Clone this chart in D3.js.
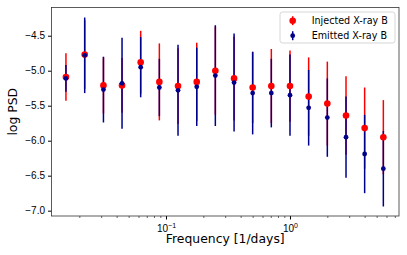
<!DOCTYPE html>
<html>
<head>
<meta charset="utf-8">
<script src="https://cdn.jsdelivr.net/npm/d3@7"></script>
<style>
  body { margin: 0; background: #fff; }
  svg { display: block; font-family: "DejaVu Sans", sans-serif; }
</style>
</head>
<body>
<svg></svg>
<script>
const width = 407;
const height = 255;

// frequencies [1/days]
const freq = [0.0156, 0.0221, 0.0313, 0.0442, 0.0625, 0.0884, 0.125, 0.177, 0.25,
  0.354, 0.5, 0.707, 1.0, 1.414, 2.0, 2.83, 4.0, 5.66];

// Injected X-ray B
const injected = [-5.09, -4.77, -5.21, -5.21, -4.88, -5.16, -5.22, -5.16, -5.00,
  -5.11, -5.24, -5.22, -5.22, -5.37, -5.47, -5.64, -5.82, -5.95];
const injectedErr = [0.34, 0.49, 0.40, 0.39, 0.45, 0.55, 0.54, 0.56, 0.63,
  0.60, 0.51, 0.53, 0.51, 0.56, 0.60, 0.56, 0.58, 0.53];

// Emitted X-ray B
const emitted = [-5.11, -4.78, -5.27, -5.18, -4.95, -5.24, -5.28, -5.23, -5.07,
  -5.17, -5.32, -5.32, -5.35, -5.53, -5.67, -5.95, -6.19, -6.40];
const emittedErr = [0.19, 0.54, 0.47, 0.65, 0.43, 0.41, 0.65, 0.56, 0.72,
  0.70, 0.59, 0.49, 0.58, 0.54, 0.56, 0.58, 0.56, 0.54];

const yTicks = [-4.5, -5.0, -5.5, -6.0, -6.5, -7.0];
const xMajor = [0.1, 1];
const xMinor = [0.02, 0.03, 0.04, 0.05, 0.06, 0.07, 0.08, 0.09,
  0.2, 0.3, 0.4, 0.5, 0.6, 0.7, 0.8, 0.9, 2, 3, 4, 5, 6, 7];

const series = [
  { name: "Injected X-ray B", y: injected, err: injectedErr, color: "#ff0000", r: 3.3 },
  { name: "Emitted X-ray B", y: emitted, err: emittedErr, color: "#00008b", r: 2.4 },
];

const margin = { top: 7.5, right: 8, bottom: 39, left: 51.5 };

const svg = d3.select("svg").attr("width", width).attr("height", height);

const x = d3.scaleLog()
  .domain([0.01193, 7.57])
  .range([margin.left, width - margin.right]);

const y = d3.scaleLinear()
  .domain([-7.076, -4.097])
  .range([height - margin.bottom, margin.top]);

const fmt = (d) => d3.format(".1f")(d).replace("-", "\u2212");

// y axis
const yAxis = svg.append("g")
  .attr("transform", `translate(${margin.left},0)`)
  .call(d3.axisLeft(y).tickValues(yTicks).tickFormat(fmt).tickSize(3.5).tickPadding(3));
yAxis.select(".domain").remove();
yAxis.selectAll("text").attr("font-size", 10).attr("fill", "#000");

// x axis: minor ticks
const xMinorAxis = svg.append("g")
  .attr("transform", `translate(0,${height - margin.bottom})`)
  .call(d3.axisBottom(x).tickValues(xMinor).tickFormat("").tickSize(2));
xMinorAxis.select(".domain").remove();
xMinorAxis.selectAll("line").attr("stroke-width", 0.6);

// x axis: major ticks with 10^n labels
const xAxis = svg.append("g")
  .attr("transform", `translate(0,${height - margin.bottom})`)
  .call(d3.axisBottom(x).tickValues(xMajor).tickFormat("").tickSize(3.5));
xAxis.select(".domain").remove();
xAxis.selectAll(".tick")
  .append("text")
  .attr("y", 15.5)
  .attr("fill", "#000")
  .attr("font-size", 10)
  .attr("text-anchor", "middle")
  .each(function (d) {
    const t = d3.select(this);
    const e = Math.round(Math.log10(d));
    t.append("tspan").text("10");
    t.append("tspan")
      .attr("dy", -4)
      .attr("font-size", 7)
      .text(e < 0 ? "\u2212" + Math.abs(e) : String(e));
  });

// frame
svg.append("rect")
  .attr("x", margin.left)
  .attr("y", margin.top)
  .attr("width", width - margin.right - margin.left)
  .attr("height", height - margin.bottom - margin.top)
  .attr("fill", "none")
  .attr("stroke", "#333")
  .attr("stroke-width", 0.8);

// error bars
series.forEach((s) => {
  svg.append("g")
    .selectAll("line")
    .data(freq)
    .join("line")
    .attr("x1", (d) => x(d))
    .attr("x2", (d) => x(d))
    .attr("y1", (d, i) => y(s.y[i] - s.err[i]))
    .attr("y2", (d, i) => y(s.y[i] + s.err[i]))
    .attr("stroke", s.color)
    .attr("stroke-width", 1.5);
});

// markers
series.forEach((s) => {
  svg.append("g")
    .selectAll("circle")
    .data(freq)
    .join("circle")
    .attr("cx", (d) => x(d))
    .attr("cy", (d, i) => y(s.y[i]))
    .attr("r", s.r)
    .attr("fill", s.color);
});

// axis labels
svg.append("text")
  .attr("x", (margin.left + width - margin.right) / 2)
  .attr("y", 243)
  .attr("text-anchor", "middle")
  .attr("font-size", 12.4)
  .text("Frequency [1/days]");

svg.append("text")
  .attr("transform", `translate(17,${(margin.top + height - margin.bottom) / 2}) rotate(-90)`)
  .attr("text-anchor", "middle")
  .attr("font-size", 12.4)
  .text("log PSD");

// legend
const legend = svg.append("g").attr("transform", "translate(280,12)");
legend.append("rect")
  .attr("width", 115)
  .attr("height", 31)
  .attr("rx", 2.5)
  .attr("fill", "#fff")
  .attr("fill-opacity", 0.8)
  .attr("stroke", "#ccc")
  .attr("stroke-width", 0.8);

const item = legend.selectAll(".item")
  .data(series)
  .join("g")
  .attr("class", "item")
  .attr("transform", (d, i) => `translate(0,${8.7 + i * 15})`);
item.append("line")
  .attr("x1", 12.7).attr("x2", 12.7)
  .attr("y1", -4.5).attr("y2", 4.5)
  .attr("stroke", (d) => d.color)
  .attr("stroke-width", 1.5);
item.append("circle")
  .attr("cx", 12.7)
  .attr("r", (d) => d.r)
  .attr("fill", (d) => d.color);
item.append("text")
  .attr("x", 31.7)
  .attr("y", 3.5)
  .attr("font-size", 9.6)
  .text((d) => d.name);
</script>
</body>
</html>
